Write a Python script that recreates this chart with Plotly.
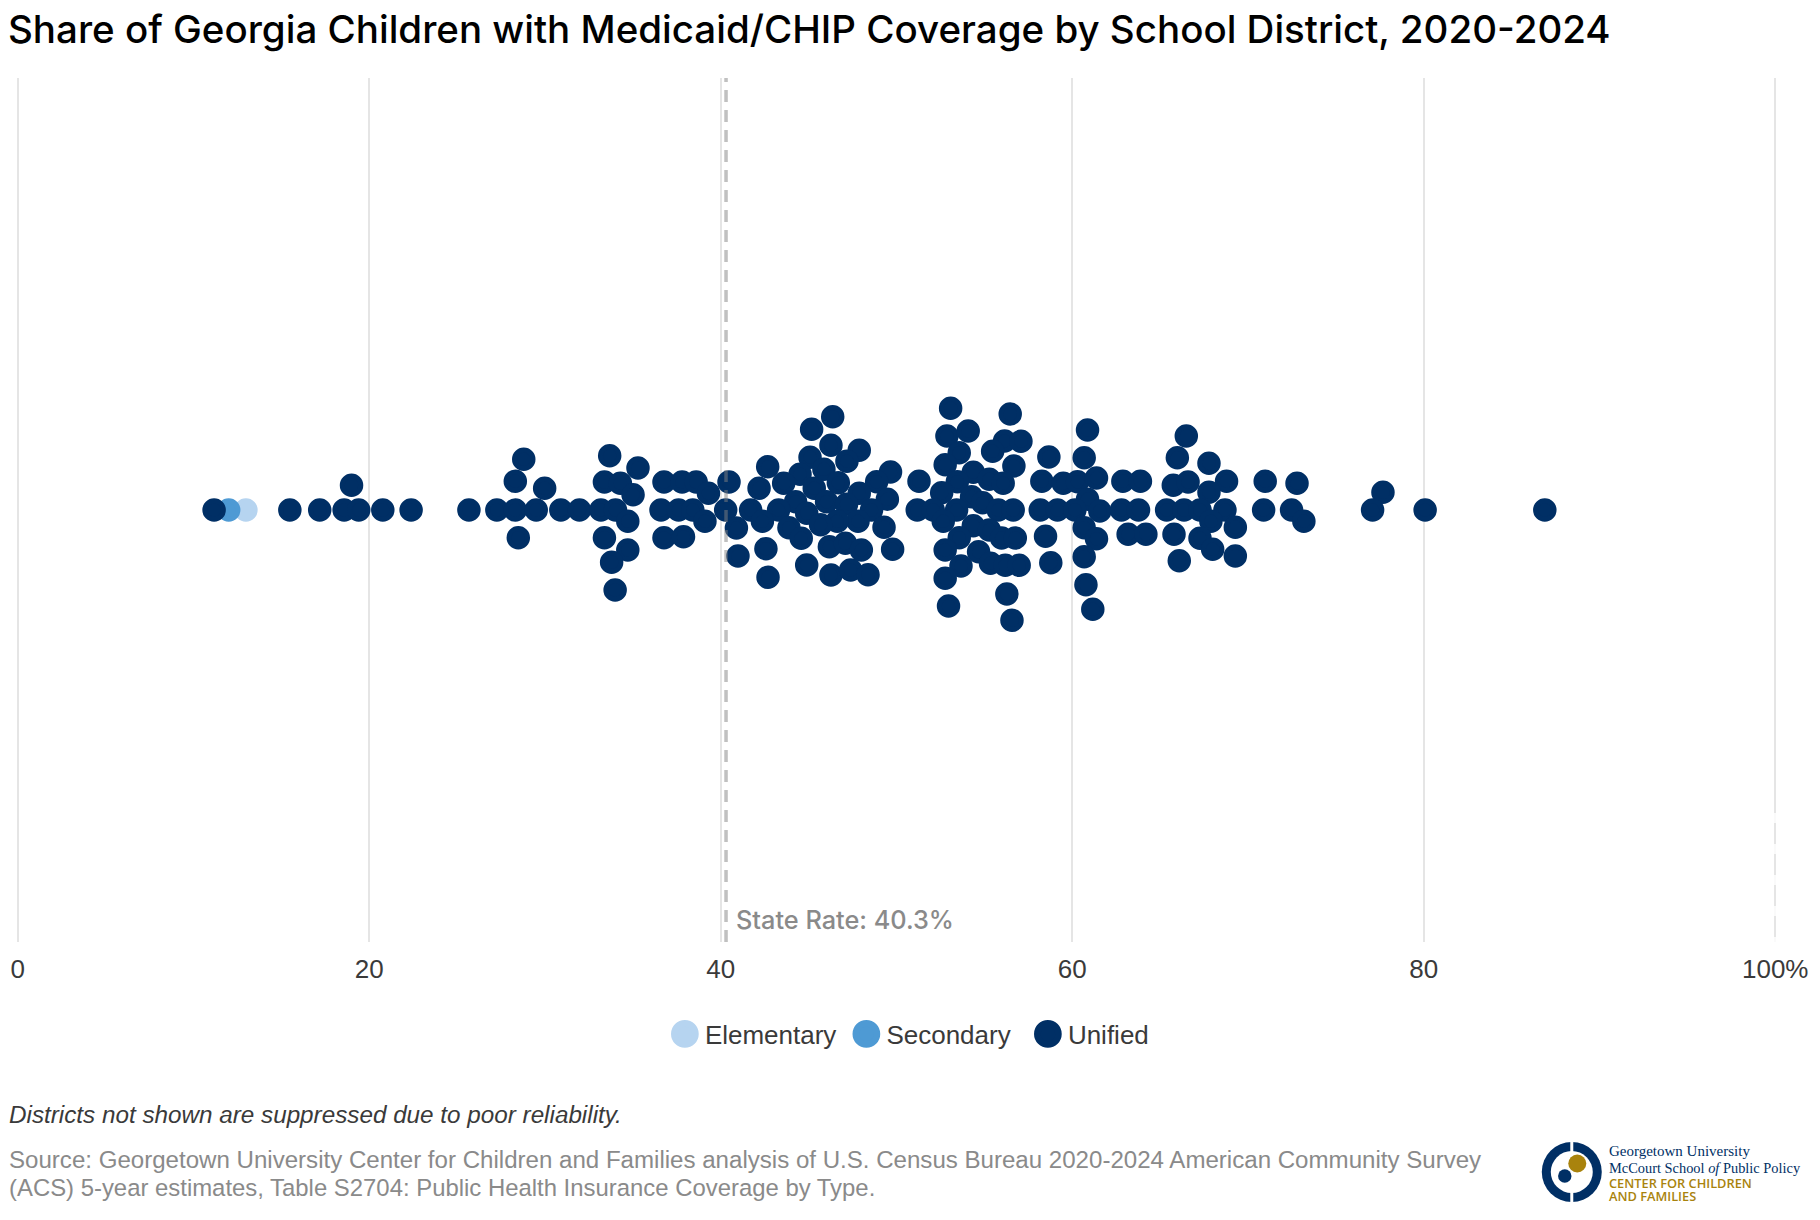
import plotly.graph_objects as go

NAVY = "#002f65"
GOLD = "#a9830d"
GRID = "#e5e5e5"
GREY = "#8a8a8a"
TEXT = "#3a3a3a"
SANS = "Liberation Sans, Arial, sans-serif"

# Share of children with Medicaid/CHIP coverage (%), and the swarm's vertical offset
elementary_share = [12.98]
elementary_offset = [0]
secondary_share = [12.0]
secondary_offset = [0]
unified_share = [
    11.17, 15.48, 17.18, 18.57, 19.40, 18.99, 20.77, 22.38, 25.67, 27.26, 28.31, 29.50,
    28.31, 28.79, 29.98, 28.48, 30.90, 31.96, 33.18, 34.01, 33.38, 33.68, 34.29, 35.01,
    35.29, 34.71, 33.38, 34.71, 33.79, 33.99, 36.77, 37.80, 38.60, 39.30, 36.60, 37.60,
    38.41, 39.10, 36.77, 37.88, 40.47, 40.28, 40.89, 40.98,
    46.37, 45.17, 46.27, 47.88, 45.08, 47.18, 42.67, 45.87, 49.66, 44.51, 43.58, 48.87,
    42.18, 46.69, 45.32, 47.88, 44.26, 41.70, 43.29, 46.02, 47.16, 49.48, 44.89, 48.58,
    42.37, 47.81, 46.63, 45.68, 43.88, 49.29, 44.58, 46.18, 47.09, 48.00, 42.57, 49.78,
    44.89, 46.27, 47.39, 48.38, 42.69,
    53.08, 56.47, 52.87, 54.08, 56.15, 57.08, 55.47, 53.57, 60.87, 52.77, 56.68, 58.67,
    60.68, 51.28, 54.37, 55.28, 56.07, 53.46, 58.27, 59.49, 60.30, 61.38, 62.88, 63.88,
    52.57, 60.87, 54.27, 54.90, 51.18, 52.09, 53.42, 55.79, 56.64, 58.18, 59.16, 60.15,
    61.57, 62.80, 63.77, 52.66, 54.37, 55.28, 60.68, 55.98, 56.76, 53.57, 58.48, 61.38,
    63.18, 64.19, 52.77, 54.67, 55.35, 56.19, 56.98, 53.67, 58.78, 60.68, 52.77, 56.28,
    60.78, 52.96, 56.57, 61.17,
    66.49, 65.98, 67.78, 65.75, 66.59, 68.78, 67.78, 65.37, 66.36, 67.27, 68.69, 67.89,
    69.28, 65.79, 67.27, 67.99, 69.28, 66.09, 70.98, 70.89, 72.79, 72.48, 73.18, 77.68,
    77.09, 80.08, 86.89,
]
unified_offset = [
    0, 0, 0, 0, 0, 24.7, 0, 0, 0, 0, 0, 0,
    28.7, 50.7, 21.7, -27.7, 0, 0, 0, 0, 28, 54.3, 26.7, 15.3,
    42, -11.3, -27.7, -40, -52.3, -80, 28, 28, 28, 16.7, 0, 0,
    0, -11.3, -27.7, -26.7, 28, 0, -18, -46,
    93.3, 80.7, 64.7, 59.7, 52.7, 48.7, 43.3, 40.7, 38, 35.7, 26.7, 28.3,
    21.7, 27.3, 21.7, 16.7, 8.3, 0, 0, 8.3, 5.7, 10.7, -3.3, 0,
    -11.3, -11.3, -11.3, -14.7, -17.7, -17.3, -28.3, -36.7, -33.3, -40, -38.7, -39.3,
    -55, -65, -60, -64.7, -67.3,
    101.7, 96, 74, 79, 69, 68.7, 58.7, 57.3, 80, 45.3, 44, 53,
    52.3, 28.7, 37.7, 30.7, 26.7, 28.3, 28.7, 26.7, 28.3, 32, 28.7, 28.7,
    17.3, 10.7, 13.3, 7.3, 0, 0, 0, 0, 0, 0, 0, 0,
    -1, 0, 0, -11.3, -15.7, -20, -17.7, -28, -28, -27.7, -26.3, -28.7,
    -24.3, -24.3, -40, -41.7, -53.3, -55.3, -55.3, -56, -52.7, -46.7, -68.3, -84,
    -74.7, -96, -110.3, -99.3,
    74, 52.3, 46.7, 24.7, 28, 28.7, 17.7, 0, 0, 0, 0, -11.3,
    -17.3, -24.3, -28.3, -39.3, -46, -50.7, 28.7, 0, 26.7, 0, -11.3, 17.7,
    0, 0, 0,
]
STATE_RATE = 40.3
x_ticks = [0, 20, 40, 60, 80, 100]
x_tick_labels = ["0", "20", "40", "60", "80", "100%"]

W, H = 1820, 1220
PAD = 0.5                                   # keeps the gridlines at 0 and 100 inside the plot
L, R, T, B = 17.5 - PAD * 17.58, 1775.5 + PAD * 17.58, 78, 942

def px(x):
    return (x - L) / (R - L)

def py(y):
    return (B - y) / (B - T)

series = [
    ("Elementary", elementary_share, elementary_offset, "#b6d4f0"),
    ("Secondary", secondary_share, secondary_offset, "#4e9ad4"),
    ("Unified", unified_share, unified_offset, NAVY),
]

fig = go.Figure()
for name, xs, ys, color in series:
    fig.add_trace(go.Scatter(
        x=xs, y=ys, mode="markers", name=name,
        marker=dict(color=color, size=18.5, line=dict(color=color, width=5)),
        cliponaxis=False,
    ))

def circle(cx, cy, r, color):
    return dict(type="circle", xref="paper", yref="paper",
                x0=px(cx - r), x1=px(cx + r), y0=py(cy + r), y1=py(cy - r),
                fillcolor=color, line_width=0, layer="above")

shapes = [
    dict(type="line", xref="x", yref="paper", x0=STATE_RATE, x1=STATE_RATE, y0=0, y1=1,
         line=dict(color="rgba(130,130,130,0.5)", width=3.5, dash="12px,8px"), layer="above"),
    # faint breaks in the gridline at 100
    dict(type="line", xref="x", yref="paper", x0=100, x1=100, y0=py(813), y1=py(942),
         line=dict(color="rgba(255,255,255,0.8)", width=3, dash="10px,21px"), layer="above"),
    # logo
    circle(1572, 1172, 30, NAVY),
    circle(1572, 1172, 21, "white"),
    dict(type="rect", xref="paper", yref="paper", x0=px(1570.5), x1=px(1573.5),
         y0=py(1204), y1=py(1140), fillcolor="white", line_width=0, layer="above"),
    circle(1577.5, 1163.5, 9, GOLD),
    circle(1565, 1176, 6.7, NAVY),
]

def note(x, y, text, size, color, family=SANS, xanchor="left", **kw):
    return dict(xref="paper", yref="paper", x=px(x), y=py(y), text=text, showarrow=False,
                xanchor=xanchor, yanchor="middle", align="left",
                font=dict(size=size, color=color, family=family, **kw))

annotations = [
    note(6, 29, "Share of Georgia Children with Medicaid/CHIP Coverage by School District, 2020-2024",
         38.5, "#000000", family="Inter, Liberation Sans, sans-serif", weight=500),
    note(734, 919, "State Rate: 40.3%", 25.3, GREY, family="Inter, Liberation Sans, sans-serif", weight=500),
    note(7, 1114, "<i>Districts not shown are suppressed due to poor reliability.</i>", 24.25, TEXT),
    note(7, 1159.5,
         "Source: Georgetown University Center for Children and Families analysis of U.S. Census Bureau 2020-2024 American Community Survey",
         24.08, GREY),
    note(7, 1187.5,
         "(ACS) 5-year estimates, Table S2704: Public Health Insurance Coverage by Type.", 23.9, GREY),
    note(1607, 1151, "Georgetown University", 15, NAVY, family="Liberation Serif, serif"),
    note(1607, 1168, "McCourt School <i>of</i> Public Policy", 14.4, NAVY, family="Liberation Serif, serif"),
    note(1607, 1183, "CENTER FOR CHILDREN", 12.8, GOLD, family="Open Sans, sans-serif", weight=600),
    note(1607, 1196, "AND FAMILIES", 12.8, GOLD, family="Open Sans, sans-serif", weight=600),
]

fig.update_layout(
    width=W, height=H,
    autosize=False,
    margin=dict(l=L, r=W - R, t=T, b=H - B, pad=0, autoexpand=False),
    paper_bgcolor="white", plot_bgcolor="white",
    font=dict(family=SANS, size=26, color=TEXT),
    showlegend=True,
    legend=dict(orientation="h", x=px(664.8), xanchor="left", y=py(1034), yanchor="middle",
                entrywidth=136.5, entrywidthmode="pixels",
                font=dict(size=26, color=TEXT), traceorder="normal",
                bgcolor="rgba(0,0,0,0)", itemclick=False, itemdoubleclick=False),
    xaxis=dict(range=[-PAD, 100 + PAD], tickmode="array", tickvals=x_ticks, ticktext=x_tick_labels,
               showgrid=True, gridcolor=GRID, gridwidth=2, zeroline=False, showline=False,
               ticks="", ticklabelstandoff=9, tickfont=dict(size=26, color=TEXT)),
    yaxis=dict(range=[-432, 432], visible=False, showgrid=False, zeroline=False),
    shapes=shapes, annotations=annotations,
)

# Page without the browser's default margin; legend markers drawn at the reference's larger size
post = """
document.body.style.margin = '0';
document.querySelectorAll('.legendpoints path.scatterpts').forEach(function (p) {
  var t = p.getAttribute('transform') || '';
  p.setAttribute('transform', t + ' scale(1.32)');
});
"""
fig.write_html("out.html", post_script=post, config={"displayModeBar": False})
